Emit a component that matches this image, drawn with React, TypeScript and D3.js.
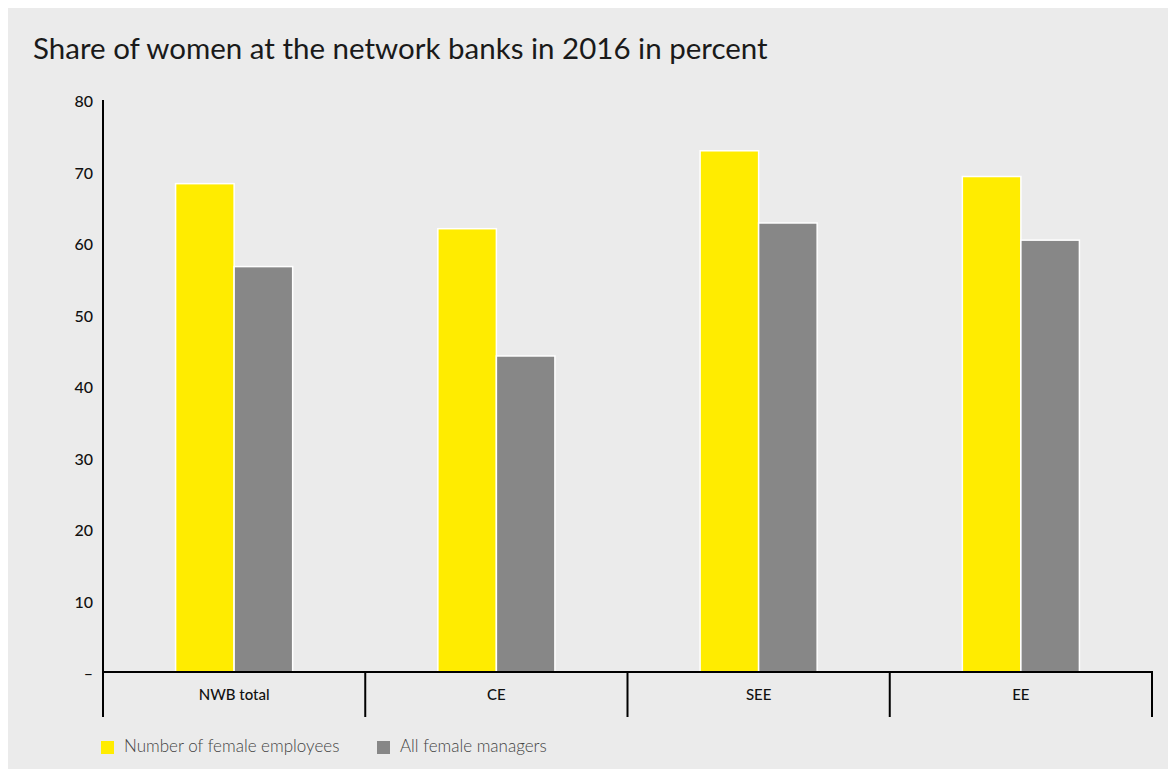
import React from "react";
import * as d3 from "d3";

const categories = ["NWB total", "CE", "SEE", "EE"];
const seriesNames = ["Number of female employees", "All female managers"];
const femaleEmployees = [68.3, 62.0, 72.9, 69.3];
const femaleManagers = [56.7, 44.2, 62.8, 60.4];
const yTicks = [0, 10, 20, 30, 40, 50, 60, 70, 80];
const colors = ["#ffec00", "#878787"];
const title = "Share of women at the network banks in 2016 in percent";

export default function App() {
  const W = 1168, H = 761;
  const x = d3.scaleBand<string>().domain(categories).range([103, 1152]).padding(0);
  const y = d3.scaleLinear().domain([0, 80]).range([672, 100]);
  const inner = d3.scaleBand<string>().domain(seriesNames).range([0, x.bandwidth()]).paddingInner(0).paddingOuter(1.24);
  const series = [femaleEmployees, femaleManagers];
  const font = "Lato, 'Open Sans', sans-serif";
  return (
    <svg width={W} height={H} style={{ display: "block" }}>
      <rect x={0} y={0} width={W} height={H} fill="#ebebeb" />
      <g transform="translate(-8,-8)">
        <text x={33} y={59} fontFamily={font} fontSize={29.5} fill="#1a1a1a">{title}</text>
        {yTicks.map((t) => (
          <text key={t} x={93} y={y(t) + 3} textAnchor="end" dominantBaseline="middle" fontFamily={font} fontWeight={500} fontSize={16} fill="#111">
            {t === 0 ? "–" : t}
          </text>
        ))}
        {categories.map((c, i) => (
          <g key={c}>
            {series.map((s, j) => (
              <rect key={j} x={(x(c) as number) + (inner(seriesNames[j]) as number)} y={y(s[i])} width={inner.bandwidth()} height={y(0) - y(s[i])} fill={colors[j]} stroke="#ffffff" strokeWidth={1.5} />
            ))}
            <text x={(x(c) as number) + x.bandwidth() / 2} y={696} textAnchor="middle" dominantBaseline="middle" fontFamily={font} fontWeight={500} fontSize={15} fill="#111">{c}</text>
            <line x1={(x(c) as number) + x.bandwidth()} x2={(x(c) as number) + x.bandwidth()} y1={672} y2={717} stroke="#000" strokeWidth={2} />
          </g>
        ))}
        <line x1={103} x2={1153} y1={672} y2={672} stroke="#000" strokeWidth={2} />
        <line x1={103} x2={103} y1={100} y2={717} stroke="#000" strokeWidth={2} />
        {seriesNames.map((n, j) => {
          const lx = j === 0 ? 101 : 377;
          return (
            <g key={n}>
              <rect x={lx} y={741} width={13} height={13} fill={colors[j]} />
              <text x={lx + 23} y={748} dominantBaseline="middle" fontFamily={font} fontWeight={300} fontSize={17} fill="#444">{n}</text>
            </g>
          );
        })}
      </g>
    </svg>
  );
}
